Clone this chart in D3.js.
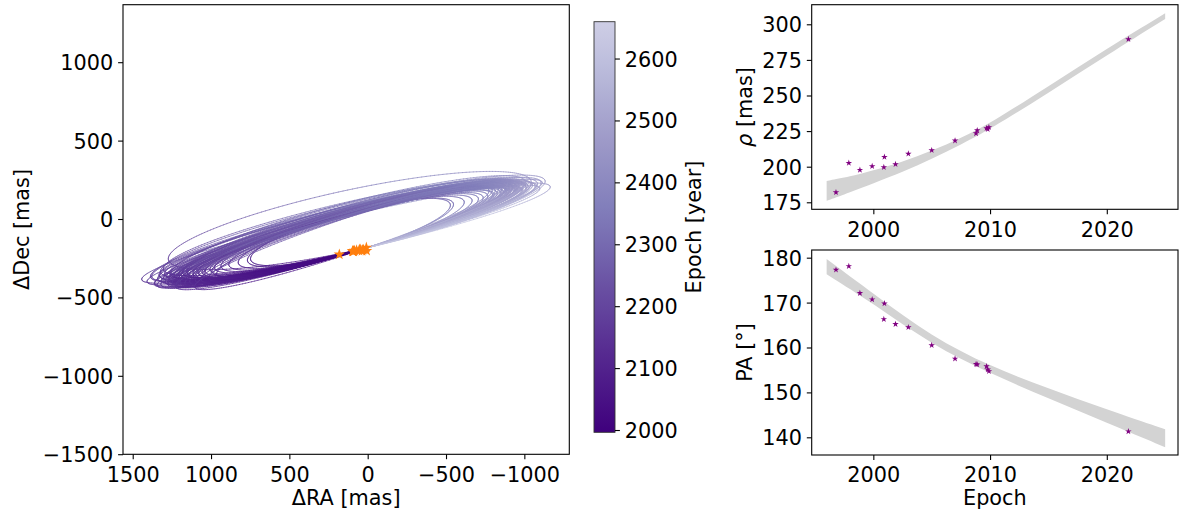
<!DOCTYPE html>
<html>
<head>
<meta charset="utf-8">
<script src="https://d3js.org/d3.v7.min.js"></script>
<style>
body { margin: 0; background: #fff; }
svg text { font-family: "DejaVu Sans", sans-serif; fill: #000; }
</style>
</head>
<body>
<svg id="fig" width="1184" height="513"></svg>
<script>

// relative astrometry of the companion
var obsEpoch = [1996.8, 1997.9, 1998.85, 1999.9, 2000.9, 2000.95, 2001.9, 2003.0, 2005.0, 2007.0, 2008.8, 2008.9, 2009.7, 2009.8, 2009.9, 2021.85];
var obsRho = [182.0, 202.6, 197.7, 200.3, 199.6, 206.8, 201.7, 209.1, 211.5, 218.3, 223.4, 225.5, 227.0, 226.3, 227.7, 289.5];
var obsPA = [177.3, 178.1, 172.1, 170.7, 166.3, 169.8, 165.2, 164.5, 160.5, 157.5, 156.3, 156.2, 155.8, 155.1, 154.7, 141.3];

// spread of the posterior orbits in separation / position angle
var rhoBandYear = [1996, 1998, 2000, 2002.5, 2005, 2007.5, 2010, 2015, 2020, 2025];
var rhoBandHi = [190, 193, 197.3, 203.4, 211.1, 220.1, 230.4, 256.4, 283.0, 307.7];
var rhoBandLo = [176, 182, 188.3, 196.2, 205.5, 215.5, 226.2, 251.8, 278.2, 303.7];
var paBandYear = [1996, 2000, 2005, 2010, 2015, 2020, 2025];
var paBandHi = [179.7, 172.0, 162.4, 155.8, 150.9, 146.2, 141.8];
var paBandLo = [176.3, 169.8, 160.6, 154.2, 148.7, 143.2, 137.8];

// sampled orbits: east and west extremes of each ellipse [mas], period [yr]
var orbitStart = 1996.3;
var orbitStartRA = 10, orbitStartDec = -185;
var orbitEastRA = [1436, 1268, 1400, 1370, 1350, 1330, 1320, 1305, 1295, 1285, 1275, 1265, 1258, 1250, 1245, 1240, 1235, 1230, 1225, 1220,
    1215, 1210, 1205, 1200, 1195, 1190, 1185, 1180, 1172, 1165, 1158, 1150, 1140, 1130, 1120, 1105, 1090, 1070, 1050, 1030,
    1000, 970, 930, 880, 820, 760, 740, 1340, 1180, 1260, 1380, 1355, 1325, 1310, 1290, 1270, 1255, 1240, 1228, 1215,
    1200, 1190, 1175, 1160, 1145, 1130, 1110, 1095, 1080, 1060, 1040, 1010, 990, 960, 1300, 1250, 1220, 1150, 1100, 1320];
var orbitEastDec = [-395, -270, -410, -380, -420, -395, -375, -405, -388, -412, -380, -400, -392, -378, -408, -385, -398, -372, -402, -390,
    -382, -405, -376, -395, -388, -400, -370, -392, -384, -398, -375, -390, -380, -370, -385, -372, -365, -360, -352, -345,
    -335, -325, -315, -305, -292, -280, -272, -430, -350, -420, -380, -425, -370, -430, -365, -425, -360, -418, -372, -428,
    -368, -415, -355, -420, -362, -410, -358, -400, -350, -395, -355, -385, -345, -360, -330, -360, -440, -350, -440, -345];
var orbitWestRA = [-1159, -1040, -1090, -1060, -1020, -1000, -1035, -980, -1005, -965, -990, -950, -975, -940, -960, -930, -955, -925, -945, -915,
    -940, -910, -930, -905, -925, -900, -915, -895, -905, -885, -895, -880, -870, -875, -860, -850, -840, -820, -800, -790,
    -760, -730, -700, -660, -610, -540, -520, -1110, -960, -900, -1100, -1070, -1045, -985, -1015, -1000, -965, -950, -980, -935,
    -960, -920, -945, -905, -920, -890, -900, -870, -880, -850, -830, -810, -790, -770, -1080, -1000, -970, -930, -890, -1130];
var orbitWestDec = [215, 250, 205, 225, 215, 220, 235, 200, 212, 205, 228, 205, 198, 218, 205, 210, 222, 205, 200, 215,
    196, 212, 208, 190, 220, 202, 210, 188, 205, 198, 200, 192, 195, 200, 185, 190, 182, 178, 170, 168,
    160, 150, 142, 132, 122, 110, 106, 240, 230, 215, 245, 225, 230, 232, 225, 228, 232, 220, 222, 230,
    228, 218, 220, 222, 215, 215, 222, 205, 212, 200, 205, 190, 195, 190, 235, 250, 245, 230, 240, 250];
var orbitPeriod = [663, 645, 650, 638, 630, 622, 628, 612, 618, 606, 612, 600, 604, 596, 600, 592, 597, 588, 593, 585,
    590, 582, 586, 578, 583, 575, 579, 572, 574, 568, 570, 564, 560, 558, 552, 546, 540, 532, 524, 518,
    506, 495, 482, 466, 448, 425, 418, 655, 590, 610, 645, 640, 632, 625, 620, 612, 606, 600, 602, 595,
    590, 587, 582, 576, 572, 566, 560, 555, 550, 543, 536, 526, 518, 510, 640, 618, 605, 580, 560, 650];

var raTicks = [1500, 1000, 500, 0, -500, -1000];
var decTicks = [1000, 500, 0, -500, -1000, -1500];
var cbTicks = [2000, 2100, 2200, 2300, 2400, 2500, 2600];
var epochTicks = [2000, 2010, 2020];
var rhoTicks = [175, 200, 225, 250, 275, 300];
var paTicks = [140, 150, 160, 170, 180];

var purples = ['#fcfbfd', '#efedf5', '#dadaeb', '#bcbddc', '#9e9ac8', '#807dba', '#6a51a3', '#54278f', '#3f007d'];

var FS = 20.8, TICK = 4.9, PAD = 4.9;
var svg = d3.select('#fig');

var purpleAt = d3.scaleLinear()
    .domain(d3.range(purples.length).map(function(i) { return i / (purples.length - 1); }))
    .range(purples)
    .interpolate(d3.interpolateRgb);
var cbMin = 1996.3, cbMax = 2659.5;
var epochToT = d3.scaleLinear().domain([cbMin, cbMax]).range([1, 0.3]);
var epochColor = function(ep) { return purpleAt(epochToT(ep)); };

function styleAxis(g, dy) {
    g.attr('font-family', '"DejaVu Sans", sans-serif').attr('font-size', FS);
    g.select('.domain').remove();
    g.selectAll('.tick line').attr('stroke', '#000').attr('stroke-width', 1.1);
    g.selectAll('.tick text').attr('dy', dy);
}

// ---------------- orbit panel ----------------
var L = {x0: 123, x1: 569.3, y0: 4.7, y1: 454.3};
var xRA = d3.scaleLinear().domain([1562, -1287]).range([L.x0, L.x1]);
var yDec = d3.scaleLinear().domain([1366.7, -1500.6]).range([L.y0, L.y1]);

var segs = [];
var nSeg = 240;
orbitPeriod.forEach(function(P, i) {
    var cx = (orbitEastRA[i] + orbitWestRA[i]) / 2, cy = (orbitEastDec[i] + orbitWestDec[i]) / 2;
    var vx = (orbitEastRA[i] - orbitWestRA[i]) / 2, vy = (orbitEastDec[i] - orbitWestDec[i]) / 2;
    var ux = orbitStartRA - cx, uy = orbitStartDec - cy;
    var pos = function(E) { return [cx + ux * Math.cos(E) + vx * Math.sin(E), cy + uy * Math.cos(E) + vy * Math.sin(E)]; };
    for (var k = 0; k < nSeg; k++) {
        var a = pos(2 * Math.PI * k / nSeg), b = pos(2 * Math.PI * (k + 1) / nSeg);
        segs.push({a: a, b: b, ep: orbitStart + P * (k + 0.5) / nSeg});
    }
});

var orbitG = svg.append('g').attr('class', 'orbits');
orbitG.selectAll('line')
    .data(segs)
    .enter()
    .append('line')
    .attr('x1', function(s) { return xRA(s.a[0]); })
    .attr('y1', function(s) { return yDec(s.a[1]); })
    .attr('x2', function(s) { return xRA(s.b[0]); })
    .attr('y2', function(s) { return yDec(s.b[1]); })
    .attr('stroke', function(s) { return epochColor(s.ep); })
    .attr('stroke-width', 0.9)
    .attr('stroke-opacity', 0.75)
    .attr('stroke-linecap', 'round');

var toRad = Math.PI / 180;
svg.append('g').selectAll('path')
    .data(obsEpoch.map(function(e, i) { return {ra: obsRho[i] * Math.sin(obsPA[i] * toRad), dec: obsRho[i] * Math.cos(obsPA[i] * toRad)}; }))
    .enter()
    .append('path')
    .attr('d', d3.symbol(d3.symbolStar, 40))
    .attr('transform', function(d) { return 'translate(' + xRA(d.ra) + ',' + yDec(d.dec) + ')'; })
    .attr('fill', '#ff7f0e');

svg.append('g').attr('transform', 'translate(0,' + L.y1 + ')')
    .call(d3.axisBottom(xRA).tickValues(raTicks).tickSize(TICK).tickPadding(PAD).tickFormat(d3.format('d')))
    .call(styleAxis, '0.85em');
svg.append('g').attr('transform', 'translate(' + L.x0 + ',0)')
    .call(d3.axisLeft(yDec).tickValues(decTicks).tickSize(TICK).tickPadding(PAD).tickFormat(d3.format('d')))
    .call(styleAxis, '0.36em');
svg.append('rect').attr('x', L.x0).attr('y', L.y0).attr('width', L.x1 - L.x0).attr('height', L.y1 - L.y0)
    .attr('fill', 'none').attr('stroke', '#000').attr('stroke-width', 1.1);

svg.append('text').attr('x', (L.x0 + L.x1) / 2).attr('y', 505).attr('text-anchor', 'middle')
    .attr('font-size', FS).text('ΔRA [mas]');
svg.append('text').attr('transform', 'translate(29,' + (L.y0 + L.y1) / 2 + ') rotate(-90)').attr('text-anchor', 'middle')
    .attr('font-size', FS).text('ΔDec [mas]');

// ---------------- colorbar ----------------
var CB = {x0: 594, x1: 615, y0: 21.7, y1: 432.3};
var yCb = d3.scaleLinear().domain([cbMin, cbMax]).range([CB.y1, CB.y0]);
var grad = svg.append('defs').append('linearGradient').attr('id', 'cbgrad')
    .attr('x1', 0).attr('y1', 1).attr('x2', 0).attr('y2', 0);
grad.selectAll('stop')
    .data(d3.range(0, 1.0001, 0.05))
    .enter()
    .append('stop')
    .attr('offset', function(f) { return f; })
    .attr('stop-color', function(f) { return epochColor(cbMin + f * (cbMax - cbMin)); });
svg.append('rect').attr('x', CB.x0).attr('y', CB.y0).attr('width', CB.x1 - CB.x0).attr('height', CB.y1 - CB.y0)
    .attr('fill', 'url(#cbgrad)').attr('stroke', '#333').attr('stroke-width', 0.9);
svg.append('g').attr('transform', 'translate(' + CB.x1 + ',0)')
    .call(d3.axisRight(yCb).tickValues(cbTicks).tickSize(TICK).tickPadding(PAD).tickFormat(d3.format('d')))
    .call(styleAxis, '0.36em');
svg.append('text').attr('transform', 'translate(701,' + (CB.y0 + CB.y1) / 2 + ') rotate(-90)').attr('text-anchor', 'middle')
    .attr('font-size', FS).text('Epoch [year]');

// ---------------- separation / PA panels ----------------
var xEp = d3.scaleLinear().domain([1994.72, 2026.1]).range([811.7, 1178]);

function drawPanel(cfg) {
    var y = d3.scaleLinear().domain(cfg.domain).range([cfg.y1, cfg.y0]);
    var g = svg.append('g');
    var area = d3.area()
        .x(function(d) { return xEp(d[0]); })
        .y0(function(d) { return y(d[1]); })
        .y1(function(d) { return y(d[2]); })
        .curve(d3.curveBasis);
    g.append('path')
        .datum(cfg.bandYear.map(function(yr, i) { return [yr, cfg.bandLo[i], cfg.bandHi[i]]; }))
        .attr('d', area)
        .attr('fill', '#d3d3d3');
    g.selectAll('.obs')
        .data(obsEpoch.map(function(e, i) { return [e, cfg.values[i]]; }))
        .enter()
        .append('path')
        .attr('class', 'obs')
        .attr('d', d3.symbol(d3.symbolStar, 13))
        .attr('transform', function(d) { return 'translate(' + xEp(d[0]) + ',' + y(d[1]) + ')'; })
        .attr('fill', '#800080');
    g.append('g').attr('transform', 'translate(0,' + cfg.y1 + ')')
        .call(d3.axisBottom(xEp).tickValues(epochTicks).tickSize(TICK).tickPadding(PAD).tickFormat(d3.format('d')))
        .call(styleAxis, '0.85em');
    g.append('g').attr('transform', 'translate(811.7,0)')
        .call(d3.axisLeft(y).tickValues(cfg.ticks).tickSize(TICK).tickPadding(PAD).tickFormat(d3.format('d')))
        .call(styleAxis, '0.36em');
    g.append('rect').attr('x', 811.7).attr('y', cfg.y0).attr('width', 1178 - 811.7).attr('height', cfg.y1 - cfg.y0)
        .attr('fill', 'none').attr('stroke', '#000').attr('stroke-width', 1.1);
    var lab = g.append('text').attr('transform', 'translate(752,' + (cfg.y0 + cfg.y1) / 2 + ') rotate(-90)')
        .attr('text-anchor', 'middle').attr('font-size', FS);
    cfg.label(lab);
}

drawPanel({
    y0: 4.7, y1: 209.3, domain: [170.08, 313.76], ticks: rhoTicks,
    bandYear: rhoBandYear, bandLo: rhoBandLo, bandHi: rhoBandHi, values: obsRho,
    label: function(t) {
        t.append('tspan').attr('font-style', 'italic').text('ρ');
        t.append('tspan').text(' [mas]');
    }
});
drawPanel({
    y0: 250, y1: 455, domain: [136.06, 181.71], ticks: paTicks,
    bandYear: paBandYear, bandLo: paBandLo, bandHi: paBandHi, values: obsPA,
    label: function(t) { t.text('PA [°]'); }
});

svg.append('text').attr('x', (811.7 + 1178) / 2).attr('y', 505).attr('text-anchor', 'middle')
    .attr('font-size', FS).text('Epoch');

</script>
</body>
</html>
